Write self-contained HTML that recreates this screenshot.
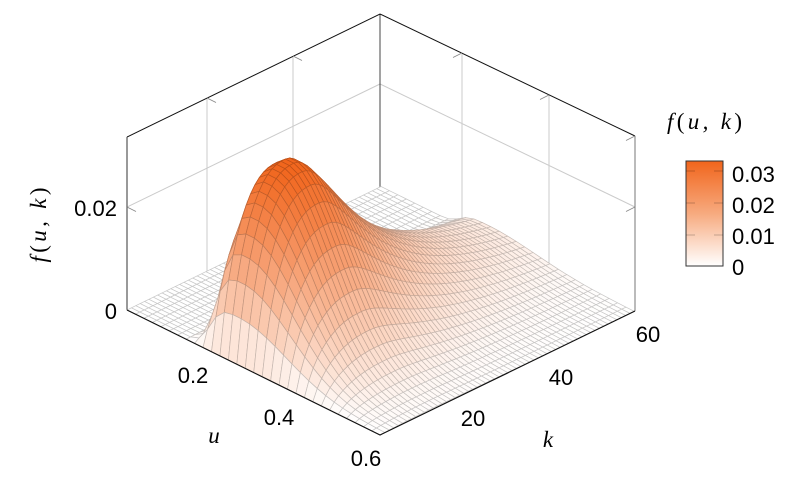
<!DOCTYPE html>
<html><head><meta charset="utf-8">
<style>
html,body{margin:0;padding:0;background:#fff;}
svg{display:block;}
.t{font-family:"Liberation Sans",Arial,sans-serif;font-size:22px;fill:#000;}
.m{font-family:"Liberation Serif","Times New Roman",serif;font-style:italic;font-size:23px;fill:#000;}
.up{font-style:normal;}
</style></head><body>
<svg xmlns="http://www.w3.org/2000/svg" width="800" height="486" viewBox="0 0 800 486">
<defs><linearGradient id="cb" x1="0" y1="1" x2="0" y2="0">
<stop offset="0" stop-color="#ffffff"/><stop offset="0.5" stop-color="rgb(247,170,127)"/><stop offset="1" stop-color="rgb(241,101,28)"/></linearGradient></defs>
<rect width="800" height="486" fill="#fff"/>
<!-- back wall grids -->
<g stroke="#cbcbcb" stroke-width="1" fill="none">
 <line x1="207" y1="98" x2="207" y2="271"/>
 <line x1="293" y1="56" x2="293" y2="229"/>
 <line x1="127" y1="207" x2="380" y2="84"/>
 <line x1="462" y1="53" x2="462" y2="227"/>
 <line x1="549" y1="95" x2="549" y2="269"/>
 <line x1="380" y1="84" x2="635" y2="207"/>
</g>
<!-- back box lines -->
<g fill="none" stroke-width="1">
 <line x1="380" y1="14" x2="380" y2="187" stroke="#444"/>
 <polyline points="127,137 380,14 635,136" stroke="#111"/>
 <line x1="127" y1="137" x2="127" y2="310" stroke="#333"/>
 <line x1="635" y1="136" x2="635" y2="311" stroke="#777"/>
</g>
<!-- ticks -->
<g stroke="#888" stroke-width="0.9" fill="none">
 <line x1="127" y1="207" x2="136" y2="211.5"/>
 <line x1="127" y1="310" x2="136" y2="314.5"/>
 <line x1="207" y1="98" x2="216" y2="102.5"/>
 <line x1="293" y1="56" x2="302" y2="60.5"/>
 <line x1="462" y1="53" x2="453" y2="57.5"/>
 <line x1="549" y1="95" x2="540" y2="99.5"/>
 <line x1="635" y1="136" x2="626" y2="140.5"/>
 <line x1="635" y1="207" x2="626" y2="211.5"/>
</g>
<g id="surf" stroke-width="0.7" stroke-linejoin="round"></g>
<!-- front box lines -->
<polyline points="127,310 380,435 635,311" fill="none" stroke="#111" stroke-width="1.2"/>

<!-- z tick labels -->
<text class="t" x="117" y="216" text-anchor="end">0.02</text>
<text class="t" x="117" y="319" text-anchor="end">0</text>
<!-- u tick labels -->
<text class="t" x="193" y="383" text-anchor="middle">0.2</text>
<text class="t" x="279" y="425" text-anchor="middle">0.4</text>
<text class="t" x="366" y="466" text-anchor="middle">0.6</text>
<!-- k tick labels -->
<text class="t" x="473" y="426" text-anchor="middle">20</text>
<text class="t" x="561" y="385" text-anchor="middle">40</text>
<text class="t" x="648" y="342" text-anchor="middle">60</text>
<!-- axis labels -->
<text class="m" x="214" y="443" text-anchor="middle">u</text>
<text class="m" x="548" y="447" text-anchor="middle">k</text>
<text class="m" transform="translate(46,225) rotate(-90)" text-anchor="middle" textLength="75" lengthAdjust="spacing">f<tspan class="up">(</tspan>u, k<tspan class="up">)</tspan></text>

<!-- colorbar -->
<text class="m" x="667" y="129" textLength="75" lengthAdjust="spacing">f<tspan class="up">(</tspan>u, k<tspan class="up">)</tspan></text>
<rect x="686" y="161" width="37" height="105" fill="url(#cb)" stroke="#333" stroke-width="1"/>
<g stroke="rgba(0,0,0,0.22)" stroke-width="1">
 <line x1="686" y1="171" x2="695" y2="171"/><line x1="714" y1="171" x2="723" y2="171"/>
 <line x1="686" y1="203" x2="695" y2="203"/><line x1="714" y1="203" x2="723" y2="203"/>
 <line x1="686" y1="235" x2="695" y2="235"/><line x1="714" y1="235" x2="723" y2="235"/>
</g>
<text class="t" x="732" y="182">0.03</text>
<text class="t" x="732" y="213">0.02</text>
<text class="t" x="732" y="244">0.01</text>
<text class="t" x="732" y="275">0</text>
</svg>
<script>
(function(){
var g=document.getElementById('surf');
var Amax=0.0337;
function A(k){var v;
 if(k<=15){v=Math.exp(-Math.pow((15-k)/14,2.6));}
 else{var x=k-15;v=Math.exp(-(Math.sqrt(x*x+25)-5)/16);}
 v*=1-Math.exp(-(k-2)/1.5);
 return Amax*Math.max(0,v);}
function H(u){var m=0.26;
 if(u<m) return Math.exp(-Math.pow((m-u)/0.073,4));
 return Math.exp(-Math.pow((u-m)/0.156,2));}
var NU=30,NK=58,Z=[],i,j,zmax=0;
for(i=0;i<=NU;i++){Z[i]=[];var u=0.01+0.59*i/NU;
 for(j=0;j<=NK;j++){var k=2+58*j/NK;var z=A(k)*H(u);Z[i][j]=z;if(z>zmax)zmax=z;}}
function P(a,b,z){return (127+253.5*a+254*b).toFixed(2)+','+(310+125*a-123.5*b-5150*z).toFixed(2);}
var q=[];
for(i=0;i<NU;i++)for(j=0;j<NK;j++){
 var a0=i/NU,a1=(i+1)/NU,b0=j/NK,b1=(j+1)/NK;
 var zm=(Z[i][j]+Z[i+1][j]+Z[i+1][j+1]+Z[i][j+1])/4;
 q.push({key:125*(a0+a1)/2-123.5*(b0+b1)/2,
  d:'M'+P(a0,b0,Z[i][j])+'L'+P(a1,b0,Z[i+1][j])+'L'+P(a1,b1,Z[i+1][j+1])+'L'+P(a0,b1,Z[i][j+1])+'Z',
  t:zm/zmax});}
q.sort(function(x,y){return x.key-y.key;});
var c1=[241,101,28],s='';
for(var n=0;n<q.length;n++){
 var t=Math.pow(Math.min(1,Math.max(0,q[n].t)),0.85);
 var r=255+t*(c1[0]-255),gg=255+t*(c1[1]-255),bb=255+t*(c1[2]-255);
 s+='<path d="'+q[n].d+'" fill="rgb('+Math.round(r)+','+Math.round(gg)+','+Math.round(bb)+')" stroke="rgb('+Math.round(r*0.78)+','+Math.round(gg*0.78)+','+Math.round(bb*0.78)+')"/>';}
g.innerHTML=s;
})();
</script>
</body></html>
